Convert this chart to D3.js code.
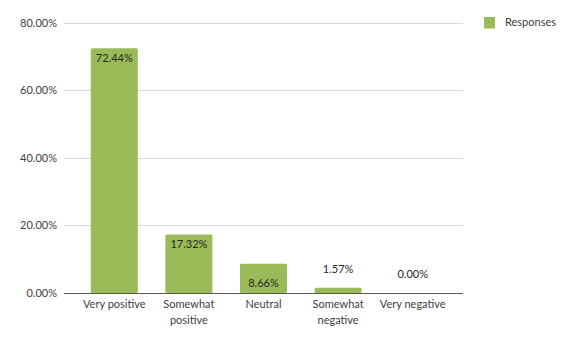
<!DOCTYPE html>
<html>
<head>
<meta charset="utf-8">
<script src="https://cdn.jsdelivr.net/npm/d3@7/dist/d3.min.js"></script>
<style>
  html, body { margin: 0; padding: 0; background: #fff; }
  svg text { font-family: Lato, "Open Sans", "Liberation Sans", sans-serif; }
</style>
</head>
<body>
<svg id="chart" width="576" height="340"></svg>
<script>
// Survey responses by sentiment
const categories = ["Very positive", "Somewhat positive", "Neutral", "Somewhat negative", "Very negative"];
const responses = [72.44, 17.32, 8.66, 1.57, 0.00];
const yTicks = [0, 20, 40, 60, 80];
const seriesName = "Responses";

const svg = d3.select("#chart");
const green = "#9bbb59";
const textColor = "#404040";

const plot = { left: 64, right: 463, top: 22.7, bottom: 293 };

const x = d3.scaleBand()
  .domain(categories)
  .range([77, 450])
  .paddingInner(0.37)
  .paddingOuter(0.185);

const y = d3.scaleLinear()
  .domain([0, 80])
  .range([plot.bottom, plot.top]);

// Horizontal gridlines
svg.append("g")
  .selectAll("line")
  .data(yTicks.filter(t => t !== 0))
  .join("line")
  .attr("x1", plot.left).attr("x2", plot.right)
  .attr("y1", d => Math.round(y(d)) + 0.5).attr("y2", d => Math.round(y(d)) + 0.5)
  .attr("stroke", "#d9d9d9").attr("stroke-width", 1);

// Y axis labels
const yAxis = d3.axisLeft(y)
  .tickValues(yTicks)
  .tickFormat(d => d3.format(".2f")(d) + "%")
  .tickSize(0)
  .tickPadding(7);
const gy = svg.append("g")
  .attr("transform", `translate(${plot.left},0)`)
  .call(yAxis);
gy.select(".domain").remove();
gy.selectAll("text")
  .attr("fill", textColor)
  .style("font-size", "11px");

// Bars
svg.append("g")
  .selectAll("rect")
  .data(categories.map((c, i) => ({ c, v: responses[i] })))
  .join("rect")
  .attr("x", d => x(d.c))
  .attr("width", x.bandwidth())
  .attr("y", d => y(d.v))
  .attr("height", d => y(0) - y(d.v))
  .attr("rx", 1.5)
  .attr("fill", green);

// Baseline
svg.append("line")
  .attr("x1", plot.left).attr("x2", plot.right)
  .attr("y1", Math.round(y(0)) + 0.5).attr("y2", Math.round(y(0)) + 0.5)
  .attr("stroke", "#595959").attr("stroke-width", 1);

// Value labels
svg.append("g")
  .selectAll("text")
  .data(categories.map((c, i) => ({ c, v: responses[i] })))
  .join("text")
  .attr("x", d => x(d.c) + x.bandwidth() / 2)
  .attr("y", d => {
    const h = y(0) - y(d.v);
    if (h > 40) return y(d.v) + 10;
    if (h > 20) return y(0) - 10;
    return y(d.v) - 19;
  })
  .attr("dy", "0.35em")
  .attr("text-anchor", "middle")
  .attr("fill", "#262626")
  .style("font-size", "11px")
  .text(d => d3.format(".2f")(d.v) + "%");

// Category labels (wrapped onto two lines where needed)
const wrap = { "Somewhat positive": ["Somewhat", "positive"], "Somewhat negative": ["Somewhat", "negative"] };
const gx = svg.append("g");
categories.forEach(c => {
  const lines = wrap[c] || [c];
  const t = gx.append("text")
    .attr("x", x(c) + x.bandwidth() / 2)
    .attr("y", 304)
    .attr("dy", "0.35em")
    .attr("text-anchor", "middle")
    .attr("fill", textColor)
    .style("font-size", "11px");
  lines.forEach((l, i) => {
    t.append("tspan")
      .attr("x", x(c) + x.bandwidth() / 2)
      .attr("dy", i === 0 ? "0.35em" : "16px")
      .text(l);
  });
});

// Legend
const legend = svg.append("g").attr("transform", "translate(484,17)");
legend.append("rect").attr("width", 11).attr("height", 11.5).attr("fill", green);
legend.append("text")
  .attr("x", 21).attr("y", 5.5).attr("dy", "0.35em")
  .attr("fill", textColor)
  .style("font-size", "11px")
  .text(seriesName);
</script>
</body>
</html>
